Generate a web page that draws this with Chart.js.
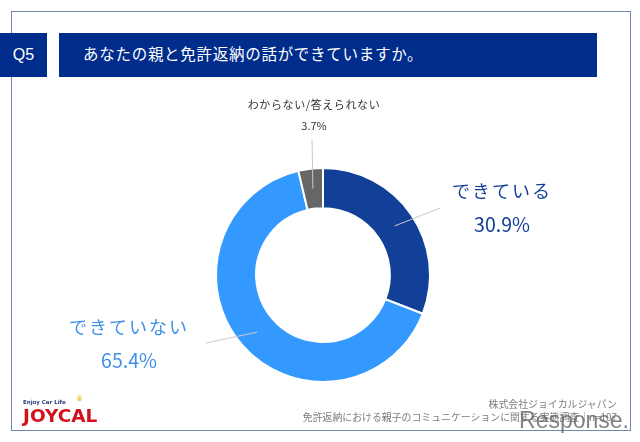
<!DOCTYPE html>
<html lang="ja">
<head>
<meta charset="utf-8">
<title>Q5</title>
<script src="https://cdn.jsdelivr.net/npm/chart.js@4"></script>
<style>
html, body { margin: 0; padding: 0; background: #fff; }
body { width: 640px; height: 442px; position: relative; overflow: hidden; font-family: "Noto Sans CJK JP", sans-serif; }
#marco { position: absolute; left: 11px; top: 11px; width: 620px; height: 420px; border: 1px solid #6f86ad; box-sizing: border-box; }
#grafico { position: absolute; left: 0; top: 0; }
.banda { position: absolute; background: #002d8c; color: #fff; display: flex; align-items: center; }
#q { left: 0; top: 33px; width: 47px; height: 44px; justify-content: center; font: 16px "Liberation Sans", sans-serif; }
#titulo { left: 59px; top: 33px; width: 538px; height: 44px; padding: 0 0 4px 24px; box-sizing: border-box; font-size: 15.5px; letter-spacing: .72px; }
#pie { position: absolute; right: 23px; top: 398px; text-align: right; color: #7d7d7d; font-size: 9.9px; line-height: 12.5px; white-space: nowrap; }
#logo { position: absolute; left: 23px; top: 399px; width: 80px; height: 26px; color: #d3111d; }
#logo small { display: block; font: bold 5.5px/7px "DejaVu Sans", sans-serif; color: #2a3a7a; }
#logo b { display: block; font: bold 18.5px/19px "DejaVu Sans", sans-serif; }
#logo i { position: absolute; left: 53px; top: -4px; font: normal 8px/8px "DejaVu Sans", sans-serif; color: #e8c030; }
#marca { position: absolute; right: 11px; top: 407px; font: 23px/26px "Liberation Sans", sans-serif; color: rgba(100,100,100,.8); }
</style>
</head>
<body>
<div id="marco"></div>
<canvas id="grafico" width="640" height="442"></canvas>
<div class="banda" id="q">Q5</div>
<div class="banda" id="titulo">あなたの親と免許返納の話ができていますか。</div>
<div id="logo"><i>♛</i><small>Enjoy Car Life</small><b>JOYCAL</b></div>
<div id="pie">株式会社ジョイカルジャパン<br>免許返納における親子のコミュニケーションに関する実態調査｜n=107</div>
<div id="marca">Response.</div>
<script>
const categorias = ["できている", "できていない", "わからない/答えられない"];
const valores = [30.9, 65.4, 3.7];
const colores = ["#123f97", "#3399ff", "#666666"];

// Rótulos de cada porción: fin de la guía y centro del texto
const guias = [[440, 208], [206, 343], [312, 139]];
const rotulos = [
    { x: 502, y1: 191, y2: 225, size: 18, espacio: "2px", color: "#123f97" },
    { x: 129, y1: 327, y2: 361, size: 18, espacio: "2px", color: "#3f8fe8" },
    { x: 314, y1: 105, y2: 126, size: 11, espacio: "0.6px", color: "#333333" }
];

const rotulosPlugin = {
    id: "rotulos",
    afterDatasetsDraw(chart) {
        const ctx = chart.ctx;
        chart.getDatasetMeta(0).data.forEach((arco, i) => {
            const p = arco.getCenterPoint();
            ctx.save();
            ctx.strokeStyle = "#c9c9c9";
            ctx.lineWidth = 1;
            ctx.beginPath();
            ctx.moveTo(p.x, p.y);
            ctx.lineTo(guias[i][0], guias[i][1]);
            ctx.stroke();
            const r = rotulos[i];
            ctx.fillStyle = r.color;
            ctx.textAlign = "center";
            ctx.textBaseline = "middle";
            ctx.letterSpacing = r.espacio;
            ctx.font = r.size + 'px "Noto Sans CJK JP"';
            ctx.fillText(categorias[i], r.x, r.y1);
            ctx.letterSpacing = "0px";
            ctx.font = (r.size > 12 ? r.size + 1.5 : r.size) + 'px "Noto Sans CJK JP"';
            ctx.fillText(valores[i].toFixed(1) + "%", r.x, r.y2);
            ctx.restore();
        });
    }
};

new Chart(document.getElementById("grafico").getContext("2d"), {
    type: "doughnut",
    data: {
        labels: categorias,
        datasets: [{ data: valores, backgroundColor: colores, borderColor: "#ffffff", borderWidth: 2 }]
    },
    options: {
        responsive: false,
        animation: false,
        cutout: "62.5%",
        layout: { padding: { left: 215, top: 167, right: 209, bottom: 59 } },
        plugins: { legend: { display: false }, tooltip: { enabled: false } }
    },
    plugins: [rotulosPlugin]
});
</script>
</body>
</html>
